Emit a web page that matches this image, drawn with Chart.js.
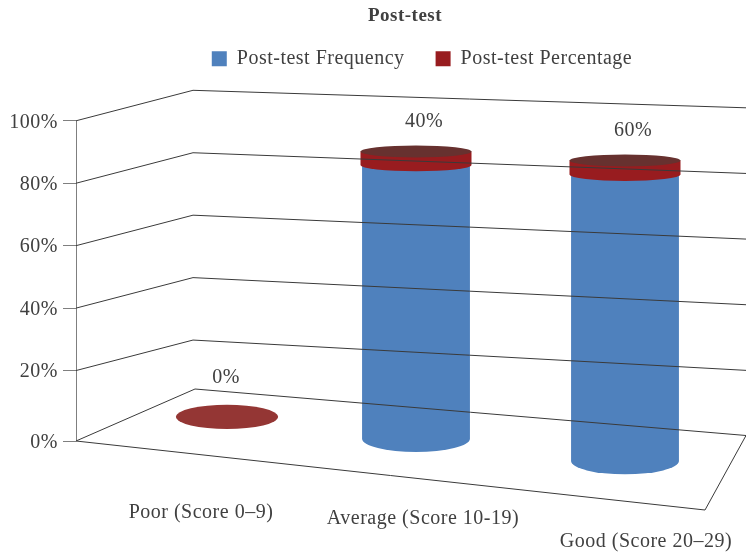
<!DOCTYPE html>
<html>
<head>
<meta charset="utf-8">
<title>Post-test</title>
<script src="https://cdn.jsdelivr.net/npm/chart.js@4"></script>
<style>
  html, body { margin: 0; padding: 0; background: #fff; }
  canvas { display: block; }
</style>
</head>
<body>
<canvas id="chart" width="746" height="552"></canvas>
<script>
// Chart data
const categories = ['Poor (Score 0–9)', 'Average (Score 10-19)', 'Good (Score 20–29)'];
const frequencyShare = [0, 95.2, 95.2];
const percentageShare = [0, 4.8, 4.8];
const percentageLabels = ['0%', '40%', '60%'];
const yTickLabels = { 0: '0%', 20: '20%', 40: '40%', 60: '60%', 80: '80%', 100: '100%' };

const FONT = '"Liberation Serif", serif';
const TEXT_COLOR = '#404040';
const LINE_COLOR = '#3a3a3a';
const AXIS_COLOR = '#7f7f7f';
const BLUE = '#4f81bd';
const RED = '#981c1f';
const CAP_RED = '#67312f';
const DISC_RED = '#943634';

// Where the oblique walls and floor sit on the picture
const BACK_X = 193;
const RIGHT_X = 746;
const BACK_RISE = 30.5;
const FLOOR = { backLeft: [195, 389], backRight: [746, 435.5], frontRight: [705, 510] };

// The lowest band of the axis is stretched, the floor hangs below the walls
const FLOOR_DROP = 8;
class ObliqueLinearScale extends Chart.LinearScale {
  getPixelForValue(value) {
    const pixel = super.getPixelForValue(value);
    return value < 20 ? pixel + (20 - value) / 20 * FLOOR_DROP : pixel;
  }
}
ObliqueLinearScale.id = 'obliqueLinear';
ObliqueLinearScale.defaults = Chart.LinearScale.defaults;
Chart.register(ObliqueLinearScale);

// Takes a point on the flat chart area to its place on the tilted picture
const project = (chart, x, y) => {
  const { left, width, top } = chart.chartArea;
  const u = (x - left) / width;
  return {
    x: 140 + 507 * u + 90 * u * u,
    y: 138 + 27 * u + (0.836 + 0.125 * u) * (y - top)
  };
};

// Ellipses flatten the higher they sit
const ellipseHeight = (chart, y) => {
  const { top, height } = chart.chartArea;
  return 6 + 7 * (y - top) / height;
};

const drawCylinder = (ctx, chart, bar, color) => {
  const top = project(chart, bar.x, bar.y);
  const base = project(chart, bar.x, bar.base);
  const rx = bar.width / 2;
  const ryBase = ellipseHeight(chart, bar.base);
  ctx.fillStyle = color;
  ctx.beginPath();
  ctx.moveTo(top.x - rx, top.y);
  ctx.lineTo(base.x - rx, base.y);
  ctx.ellipse(base.x, base.y, rx, ryBase, 0, Math.PI, 0, true);
  ctx.lineTo(top.x + rx, top.y);
  ctx.closePath();
  ctx.fill();
};

const cylinderPlugin = {
  id: 'cylinders',
  beforeDatasetsDraw(chart) {
    const ctx = chart.ctx;
    const lower = chart.getDatasetMeta(0).data;
    const upper = chart.getDatasetMeta(1).data;
    ctx.save();
    categories.forEach((_, i) => {
      if (percentageShare[i] + frequencyShare[i] === 0) {
        // nothing stacked: only a flat disc is left on the floor
        const c = project(chart, upper[i].x, upper[i].base);
        const ry = ellipseHeight(chart, upper[i].base) * 0.92;
        ctx.fillStyle = DISC_RED;
        ctx.beginPath();
        ctx.ellipse(c.x, c.y, upper[i].width / 2 * 0.92, ry, 0, 0, Math.PI * 2);
        ctx.fill();
        return;
      }
      drawCylinder(ctx, chart, lower[i], BLUE);
      drawCylinder(ctx, chart, upper[i], RED);
      const cap = project(chart, upper[i].x, upper[i].y);
      ctx.fillStyle = CAP_RED;
      ctx.beginPath();
      ctx.ellipse(cap.x, cap.y, upper[i].width / 2, ellipseHeight(chart, upper[i].y), 0, 0, Math.PI * 2);
      ctx.fill();
    });
    ctx.restore();
  },
  // native flat bars are replaced by the cylinders above
  beforeDatasetDraw() {
    return false;
  }
};

const wallPlugin = {
  id: 'walls',
  afterDatasetsDraw(chart) {
    const ctx = chart.ctx;
    const yScale = chart.scales.y;
    const frontX = chart.chartArea.left;
    const floorY = yScale.getPixelForValue(0);
    ctx.save();
    // the front edge runs on down to the floor
    ctx.strokeStyle = AXIS_COLOR;
    ctx.lineWidth = 1;
    ctx.beginPath();
    ctx.moveTo(frontX + 0.5, yScale.getPixelForValue(100));
    ctx.lineTo(frontX + 0.5, floorY);
    ctx.stroke();
    ctx.strokeStyle = LINE_COLOR;
    yScale.ticks.forEach(tick => {
      if (tick.value === 0) return;
      const y = yScale.getPixelForValue(tick.value);
      const backY = y - BACK_RISE;
      ctx.beginPath();
      ctx.moveTo(frontX, y);
      ctx.lineTo(BACK_X, backY);
      ctx.lineTo(RIGHT_X, backY + 17.5 + (100 - tick.value) * 0.16);
      ctx.stroke();
    });
    ctx.beginPath();
    ctx.moveTo(frontX, floorY);
    ctx.lineTo(...FLOOR.backLeft);
    ctx.lineTo(...FLOOR.backRight);
    ctx.lineTo(...FLOOR.frontRight);
    ctx.closePath();
    ctx.stroke();
    ctx.restore();
  },
  afterDraw(chart) {
    const ctx = chart.ctx;
    const upper = chart.getDatasetMeta(1).data;
    // category label anchors, the floor is tilted so they step down
    const labelSpots = [[201, 513], [423, 519], [646, 542]];
    ctx.save();
    ctx.font = '20px ' + FONT;
    ctx.fillStyle = TEXT_COLOR;
    ctx.textAlign = 'center';
    ctx.textBaseline = 'middle';
    categories.forEach((label, i) => ctx.fillText(label, labelSpots[i][0], labelSpots[i][1]));
    percentageLabels.forEach((label, i) => {
      const flat = percentageShare[i] === 0;
      const p = project(chart, upper[i].x, flat ? upper[i].base : upper[i].y);
      ctx.fillText(label, p.x + (flat ? -1 : 8), p.y + (flat ? -39 : -30));
    });
    ctx.restore();
  }
};

const headerPlugin = {
  id: 'header',
  // the original's book face runs wider than the installed serif
  beforeUpdate(chart) {
    chart.ctx.letterSpacing = '0.5px';
  },
  // title and legend do not centre on the canvas in the original
  afterLayout(chart) {
    chart.titleBlock.left += 32;
    chart.titleBlock.right += 32;
    chart.legend.left += 49;
    chart.legend.right += 49;
    chart.legend.top -= 42;
    chart.legend.bottom -= 42;
  }
};

new Chart(document.getElementById('chart'), {
  type: 'bar',
  data: {
    labels: categories,
    datasets: [
      { label: 'Post-test Frequency', data: frequencyShare, backgroundColor: BLUE, borderWidth: 0, barPercentage: 0.483, categoryPercentage: 1 },
      { label: 'Post-test Percentage', data: percentageShare, backgroundColor: RED, borderWidth: 0, barPercentage: 0.497, categoryPercentage: 1 }
    ]
  },
  options: {
    responsive: false,
    animation: false,
    layout: { padding: { bottom: 119 } },
    plugins: {
      title: {
        display: true,
        text: 'Post-test',
        color: TEXT_COLOR,
        font: { family: FONT, size: 19, weight: 'bold' },
        padding: { top: 5, bottom: 32 }
      },
      legend: {
        position: 'top',
        labels: {
          color: TEXT_COLOR,
          font: { family: FONT, size: 20 },
          boxWidth: 15,
          boxHeight: 15,
          padding: 31
        }
      },
      tooltip: { enabled: false }
    },
    scales: {
      x: { display: false, stacked: true },
      y: {
        type: 'obliqueLinear',
        stacked: true,
        min: 0,
        max: 100,
        afterFit: scale => { scale.width = 76; },
        border: { display: false },
        grid: { drawOnChartArea: false, tickLength: 13, tickColor: AXIS_COLOR },
        ticks: {
          stepSize: 20,
          padding: 5,
          labelOffset: 1.5,
          color: TEXT_COLOR,
          font: { family: FONT, size: 20 },
          callback: value => yTickLabels[value]
        }
      }
    }
  },
  plugins: [cylinderPlugin, wallPlugin, headerPlugin]
});
</script>
</body>
</html>
